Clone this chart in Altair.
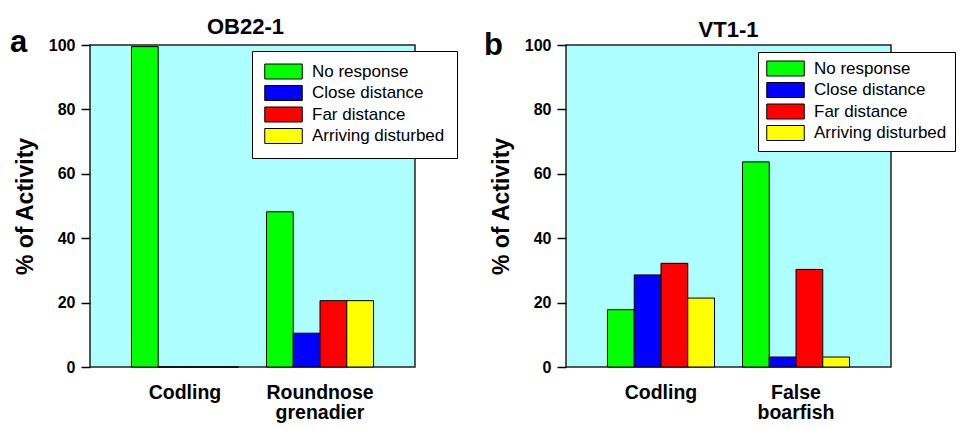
import altair as alt
import pandas as pd

responses = ["No response", "Close distance", "Far distance", "Arriving disturbed"]
colors = ["#00FF00", "#0000FF", "#FF0000", "#FFFF00"]

species_a = ["Codling", "Roundnose grenadier"]
a_codling = [99.5, 0, 0, 0]
a_roundnose = [48.2, 10.5, 20.6, 20.6]

species_b = ["Codling", "False boarfish"]
b_codling = [17.8, 28.6, 32.2, 21.4]
b_boarfish = [63.7, 3.1, 30.3, 3.1]

titles = ["OB22-1", "VT1-1"]
letters = ["a", "b"]
yticks = [0, 20, 40, 60, 80, 100]

FONT = "Liberation Sans, Arial, sans-serif"


def make_df(species, series):
    rows = []
    for sp, vals in zip(species, series):
        for r, v in zip(responses, vals):
            rows.append({"species": sp, "response": r, "value": v})
    return pd.DataFrame(rows)


def panel(df, species, title, letter, lx, ly, lpad, tdx, tdy, letter_x, letter_y):
    bars = alt.Chart(df).mark_bar(stroke="black", strokeWidth=1).encode(
        x=alt.X(
            "species:N",
            sort=species,
            scale=alt.Scale(paddingInner=0.207, paddingOuter=0.307),
            axis=alt.Axis(
                title=None, labelAngle=0, ticks=False, domain=False,
                labelFont=FONT, labelFontSize=19.5, labelFontWeight="bold",
                labelColor="black", labelPadding=16,
                labelExpr="split(datum.label, ' ')", labelLineHeight=20,
            ),
        ),
        xOffset=alt.XOffset(
            "response:N", sort=responses,
            scale=alt.Scale(domain=responses, paddingInner=0, paddingOuter=0),
        ),
        y=alt.Y(
            "value:Q", stack=None,
            scale=alt.Scale(domain=[0, 100], nice=False),
            axis=alt.Axis(
                values=yticks, title="% of Activity", grid=False, domain=False,
                tickSize=9, tickWidth=1.5, tickColor="black",
                labelFont=FONT, labelFontSize=16, labelFontWeight="bold",
                labelColor="black", labelPadding=6,
                titleFont=FONT, titleFontSize=23, titleFontWeight="bold",
                titleColor="black", titlePadding=11,
            ),
        ),
        color=alt.Color(
            "response:N",
            scale=alt.Scale(domain=responses, range=colors),
            legend=alt.Legend(
                orient="none", legendX=lx, legendY=ly, title=None,
                symbolType="M-2.5,-1H2.5V1H-2.5Z", symbolSize=225,
                symbolOffset=11, labelOffset=20,
                symbolStrokeColor="black", symbolStrokeWidth=1,
                fillColor="white", strokeColor="black", padding=lpad,
                rowPadding=2.5, labelFont=FONT, labelFontSize=17,
                labelColor="black", labelLimit=400,
            ),
        ),
    )
    letter_text = alt.Chart(alt.Data(values=[{"t": letter}])).mark_text(
        font=FONT, fontSize=31, fontWeight="bold", align="left",
        baseline="alphabetic", color="black",
    ).encode(text="t:N", x=alt.value(letter_x), y=alt.value(letter_y))
    return alt.layer(bars, letter_text).properties(
        width=325, height=322,
        title=alt.TitleParams(
            text=title, font=FONT, fontSize=22, fontWeight="bold",
            color="black", offset=8, frame="group", anchor="middle",
            dx=tdx, dy=tdy,
        ),
    )


pa = panel(make_df(species_a, [a_codling, a_roundnose]), species_a,
           titles[0], letters[0], 162, 6, 12, -7, 20, -80, 7)
pb = panel(make_df(species_b, [b_codling, b_boarfish]), species_b,
           titles[1], letters[1], 192, 7, 8, 0, 20, -82, 10)

chart = (
    alt.hconcat(pa, pb, spacing=24)
    .resolve_scale(color="independent", x="independent", y="independent",
                   xOffset="independent")
    .resolve_legend(color="independent")
    .properties(padding={"left": 1, "top": 7, "right": 0, "bottom": 0},
                background="white")
    .configure_view(fill="#ADFFFF", stroke="#222222", strokeWidth=1.5)
)

chart.save("out.html", embed_options={"renderer": "svg", "actions": False})
